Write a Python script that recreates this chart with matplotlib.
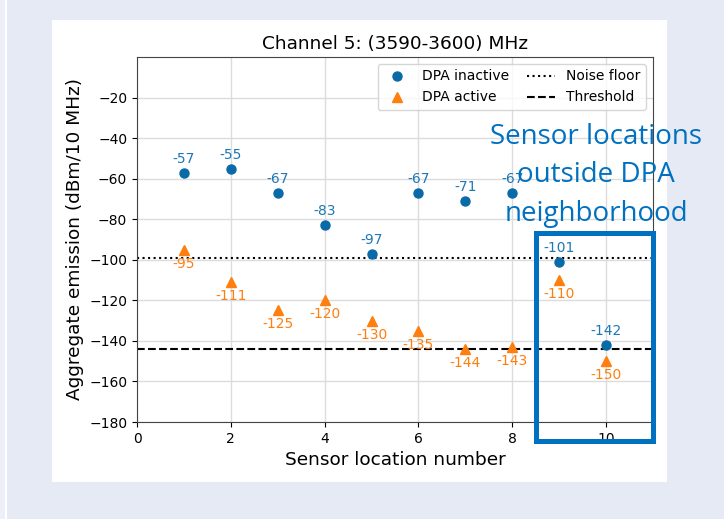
import matplotlib
matplotlib.use("Agg")
import matplotlib.pyplot as plt
from matplotlib.patches import Rectangle

# Sensor data
sensor_locations = [1, 2, 3, 4, 5, 6, 7, 8, 9, 10]
dpa_inactive = [-57, -55, -67, -83, -97, -67, -71, -67, -101, -142]
dpa_active = [-95, -111, -125, -120, -130, -135, -144, -143, -110, -150]
noise_floor = -99
threshold = -144
y_ticks = [-20, -40, -60, -80, -100, -120, -140, -160, -180]
x_ticks = [0, 2, 4, 6, 8, 10]

W, H = 724, 529
fig = plt.figure(figsize=(W / 100, H / 100), dpi=100, facecolor="#e6eaf5")

# Slide background pieces
fig.patches.append(Rectangle((0, 0), 5 / W, 1, transform=fig.transFigure,
                             facecolor="#eceff8", edgecolor="none", zorder=-10))
fig.patches.append(Rectangle((5 / W, 0), 2 / W, 1, transform=fig.transFigure,
                             facecolor="white", edgecolor="none", zorder=-10))
fig.patches.append(Rectangle((0, 0), 1, 10 / H, transform=fig.transFigure,
                             facecolor="white", edgecolor="none", zorder=-10))
fig.patches.append(Rectangle((52 / W, 1 - 482 / H), (667 - 52) / W, (482 - 20) / H,
                             transform=fig.transFigure, facecolor="white",
                             edgecolor="none", zorder=-10))

ax = fig.add_axes([137 / W, 1 - 422 / H, (653 - 137) / W, (422 - 57) / H])
ax.set_facecolor("white")

c_in = "#0a6aa8"
c_in_txt = "#1f77b4"
c_act = "#ff7f0e"

ax.plot(sensor_locations, dpa_inactive, "o", color=c_in, markersize=6.5,
        label="DPA inactive", zorder=3)
ax.plot(sensor_locations, dpa_active, "^", color=c_act, markersize=6.5,
        label="DPA active", zorder=3)
ax.axhline(noise_floor, color="black", linestyle=":", linewidth=1.5,
           label="Noise floor", zorder=2)
ax.axhline(threshold, color="black", linestyle="--", linewidth=1.5,
           label="Threshold", zorder=2)

for x, v in zip(sensor_locations, dpa_inactive):
    ax.annotate(f"{v}", (x, v), xytext=(0, 5), textcoords="offset points",
                ha="center", va="bottom", color=c_in_txt, fontsize=10)
for x, v in zip(sensor_locations, dpa_active):
    ax.annotate(f"{v}", (x, v), xytext=(0, -5), textcoords="offset points",
                ha="center", va="top", color=c_act, fontsize=10)

ax.set_xlim(0, 11)
ax.set_ylim(-180, 0)
ax.set_xticks(x_ticks)
ax.set_yticks(y_ticks)
ax.tick_params(labelsize=10)
ax.grid(True, color="#dcdcdc", linewidth=1)
ax.set_axisbelow(True)
for s in ax.spines.values():
    s.set_color("#444444")

ax.set_title("Channel 5: (3590-3600) MHz", fontsize=13.3)
ax.set_xlabel("Sensor location number", fontsize=13.3)
ax.set_ylabel("Aggregate emission (dBm/10 MHz)", fontsize=13.3)
ax.legend(ncol=2, loc="upper right", fontsize=10, framealpha=0.8,
          borderaxespad=0.5, columnspacing=1.3)

# Highlight box for sensors outside the DPA neighborhood
fig.patches.append(Rectangle((535.5 / W, 1 - 440.5 / H), (652.5 - 535.5) / W,
                             (440.5 - 232.5) / H, transform=fig.transFigure,
                             facecolor="none", edgecolor="#0070c0",
                             linewidth=3.6, zorder=5))
fig.text(596 / W, 1 - 175 / H, "Sensor locations\noutside DPA\nneighborhood",
         ha="center", va="center", color="#0070c0", fontsize=20,
         family=["Open Sans", "DejaVu Sans"], linespacing=1.5, zorder=6)

fig.savefig("out.png", dpi=100, facecolor=fig.get_facecolor())
